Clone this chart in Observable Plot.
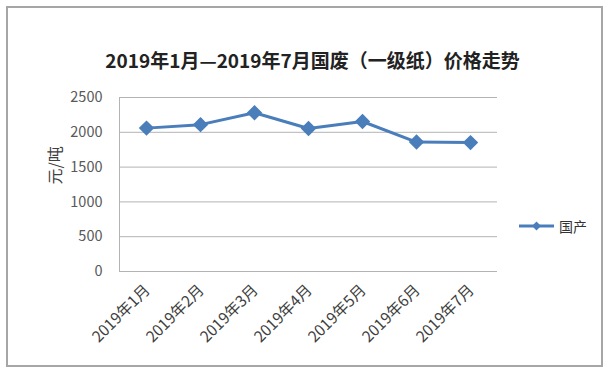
<!DOCTYPE html>
<html><head><meta charset="utf-8">
<script src="https://cdn.jsdelivr.net/npm/d3@7"></script>
<script src="https://cdn.jsdelivr.net/npm/@observablehq/plot@0.6"></script>
<style>
body{margin:0;background:#fff;}
#wrap{position:relative;width:610px;height:371px;font-family:"Noto Sans CJK SC","Noto Sans",sans-serif;}
#frame{position:absolute;left:6px;top:6px;width:593px;height:357px;border:2px solid #a6a6a6;pointer-events:none;}
#legend{position:absolute;left:518px;top:216px;display:flex;align-items:center;font-size:14px;color:#333;}
</style></head>
<body><div id="wrap"><div id="frame"></div><div id="legend"></div></div>
<script>
const title = "2019年1月—2019年7月国废（一级纸）价格走势";
const months = ["2019年1月","2019年2月","2019年3月","2019年4月","2019年5月","2019年6月","2019年7月"];
const prices = [2060, 2110, 2280, 2055, 2155, 1860, 1852];
const seriesName = "国产";
const yTicks = [0, 500, 1000, 1500, 2000, 2500];
const yLabel = "元/吨";
const color = "#4a7ebb";

const data = months.map((m, i) => ({month: m, price: prices[i]}));
const font = "Noto Sans CJK SC";

const chart = Plot.plot({
  width: 610, height: 371,
  marginLeft: 119, marginRight: 113, marginTop: 97, marginBottom: 100,
  style: {fontFamily: font, background: "transparent", overflow: "visible"},
  x: {type: "point", domain: months, padding: 0.5, axis: null},
  y: {domain: [0, 2500], axis: null},
  marks: [
    Plot.gridY(yTicks, {stroke: "#b3b3b3", strokeOpacity: 1, strokeWidth: 1}),
    Plot.ruleX([months[0]], {y1: 0, y2: 2500, stroke: "#b3b3b3", dx: -27}),
    Plot.axisY(yTicks, {tickSize: 0, tickPadding: 17, fontSize: 14.5, fill: "#595959", label: null, tickFormat: d => String(d)}),
    Plot.axisX(months, {tickSize: 0, tickRotate: -45, tickPadding: 16, fontSize: 15.5, fill: "#404040", label: null, dx: 1}),
    Plot.line(data, {x: "month", y: "price", stroke: color, strokeWidth: 3}),
    Plot.dot(data, {x: "month", y: "price", symbol: "diamond2", r: 6, fill: color, stroke: color}),
    Plot.text([yLabel], {frameAnchor: "left", rotate: -90, dx: -64, fontSize: 16, fill: "#404040", text: d => d}),
    Plot.text([title], {frameAnchor: "top", dy: -43, dx: 4, fontSize: 19, fontWeight: "bold", fill: "#222", text: d => d})
  ]
});
document.getElementById("wrap").prepend(chart);
chart.style.position = "absolute"; chart.style.left = "0"; chart.style.top = "0";

const lg = document.getElementById("legend");
lg.innerHTML = `<svg width="38" height="12"><line x1="1" y1="6" x2="36" y2="6" stroke="${color}" stroke-width="3"/><path d="M18.5 1.5 L23 6 L18.5 10.5 L14 6 Z" fill="${color}"/></svg><span style="margin-left:3px">${seriesName}</span>`;
</script></body></html>
